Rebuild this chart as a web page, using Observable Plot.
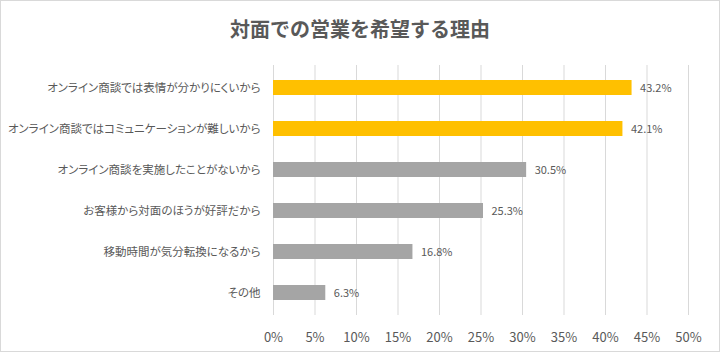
<!DOCTYPE html>
<html><head><meta charset="utf-8">
<script src="https://cdn.jsdelivr.net/npm/d3@7"></script>
<script src="https://cdn.jsdelivr.net/npm/@observablehq/plot@0.6"></script>
<style>
html,body{margin:0;padding:0;background:#fff;}
#wrap{position:relative;width:720px;height:352px;font-family:"Noto Sans CJK JP","Noto Sans",sans-serif;}
#title{height:50px;line-height:58px;text-align:center;font-size:20px;font-weight:bold;color:#595959;margin:0;}
#frame{position:absolute;left:0;top:0;width:718px;height:350px;border:1px solid #d9d9d9;pointer-events:none;}
#chart svg text{font-feature-settings:"palt";}
</style></head>
<body><div id="wrap"><div id="title">対面での営業を希望する理由</div><div id="chart"></div><div id="frame"></div></div>
<script>
const categories = ["オンライン商談では表情が分かりにくいから","オンライン商談ではコミュニケーションが難しいから","オンライン商談を実施したことがないから","お客様から対面のほうが好評だから","移動時間が気分転換になるから","その他"];
const values = [43.2, 42.1, 30.5, 25.3, 16.8, 6.3];
const highlight = [true, true, false, false, false, false];
const xTicks = [0,5,10,15,20,25,30,35,40,45,50];

const data = categories.map((c,i)=>({cat:c, v:values[i], hl:highlight[i]}));
const font = '"Noto Sans CJK JP","Noto Sans",sans-serif';
const chart = Plot.plot({
  width:720, height:302,
  marginTop:15, marginBottom:37, marginLeft:273, marginRight:32,
  style:{fontFamily:font, color:"#595959", background:"transparent"},
  x:{domain:[0,50], ticks:xTicks, tickFormat:d=>d+"%", label:null},
  y:{domain:categories, paddingInner:0.64, paddingOuter:0.32, label:null},
  marks:[
    Plot.ruleX(xTicks,{x:d=>d, stroke:"#d9d9d9", strokeWidth:1}),
    Plot.barX(data,{x:"v", y:"cat", fill:d=>d.hl?"#FFC000":"#A5A5A5"}),
    Plot.text(data,{x:"v", y:"cat", text:d=>d.v.toFixed(1)+"%", dx:8, textAnchor:"start", fill:"#595959", fontSize:11}),
    Plot.axisX({ticks:xTicks, tickFormat:d=>d+"%", tickSize:0, tickPadding:17, fontSize:13, label:null}),
    Plot.axisY({tickSize:0, tickPadding:13, fontSize:11.5, label:null})
  ]
});
document.getElementById("chart").appendChild(chart);
</script></body></html>
